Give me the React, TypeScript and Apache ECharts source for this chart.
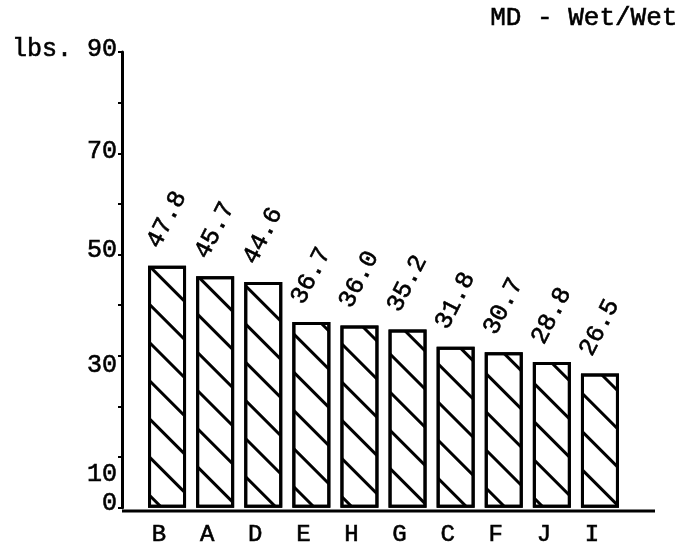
import React, { useEffect, useRef } from "react";
import * as echarts from "echarts";

const categories = ["B", "A", "D", "E", "H", "G", "C", "F", "J", "I"];
const values = [47.8, 45.7, 44.6, 36.7, 36.0, 35.2, 31.8, 30.7, 28.8, 26.5];
const yLabelValues = [0, 10, 30, 50, 70, 90];
const yUnit = "lbs.";
const titleText = "MD - Wet/Wet";

const FONT = "'Liberation Mono', 'DejaVu Sans Mono', monospace";
const INK = { color: "#000", textBorderColor: "#000", textBorderWidth: 0.6 };

export default function App() {
  const ref = useRef<HTMLDivElement>(null);
  useEffect(() => {
    if (!ref.current) return;
    const chart = echarts.init(ref.current, undefined, { renderer: "svg" });
    const base = { fontFamily: FONT, fontSize: 25, ...INK };
    const rich: any = {
      l90: { ...base, padding: [0, 0, 6, 0] },
      l70: { ...base, padding: [0, 0, 4, 0] },
      l50: { ...base, padding: [0, 0, 8, 0] },
      l30: { ...base, padding: [20, 0, 0, 0] },
      l10: { ...base, padding: [34, 0, 0, 0] },
      l0: { ...base, padding: [0, 0, 8, 0] },
    };
    chart.setOption({
      animation: false,
      aria: { enabled: true, decal: { show: true } },
      title: {
        text: titleText,
        right: -3,
        top: 0,
        textStyle: { fontFamily: FONT, fontSize: 26, fontWeight: "normal", ...INK },
      },
      grid: { left: 143, right: 56, top: 52, bottom: 36 },
      xAxis: {
        type: "category",
        data: categories,
        axisLine: { show: false },
        axisTick: { show: false },
        axisLabel: {
          fontFamily: FONT,
          fontSize: 24,
          ...INK,
          margin: 15,
          padding: [0, 16, 0, 0],
        },
      },
      yAxis: {
        type: "value",
        min: 0,
        max: 90,
        interval: 10,
        offset: 21,
        axisLine: { show: true, lineStyle: { color: "#000", width: 3 } },
        axisTick: { show: true, length: 4, lineStyle: { color: "#000", width: 2 } },
        splitLine: { show: false },
        axisLabel: {
          margin: 5,
          formatter: (v: number) => {
            if (!yLabelValues.includes(v)) return "";
            const txt = v === 90 ? `${yUnit} ${v}` : `${v}`;
            return `{l${v}|${txt}}`;
          },
          rich,
        },
      },
      series: [
        {
          type: "bar",
          data: values,
          barWidth: 38,
          itemStyle: {
            color: "#fff",
            borderColor: "#000",
            borderWidth: 3,
            decal: {
              symbol: "rect",
              symbolSize: 1,
              color: "#000",
              backgroundColor: "#fff",
              dashArrayX: [1, 0],
              dashArrayY: [3, 24],
              rotation: Math.PI / 4,
            },
          },
          label: {
            show: true,
            position: "top",
            distance: 20,
            rotate: 63,
            align: "left",
            verticalAlign: "middle",
            offset: [-7, -12],
            fontFamily: FONT,
            fontSize: 25,
            ...INK,
            formatter: (p: any) => Number(p.value).toFixed(1),
          },
        },
      ],
      graphic: [
        {
          type: "line",
          shape: { x1: 122, y1: 511, x2: 655, y2: 511 },
          style: { stroke: "#000", lineWidth: 3 },
        },
      ],
    });
    return () => chart.dispose();
  }, []);
  return (
    <div
      ref={ref}
      style={{ position: "fixed", left: 0, top: 0, width: 680, height: 547 }}
    />
  );
}
